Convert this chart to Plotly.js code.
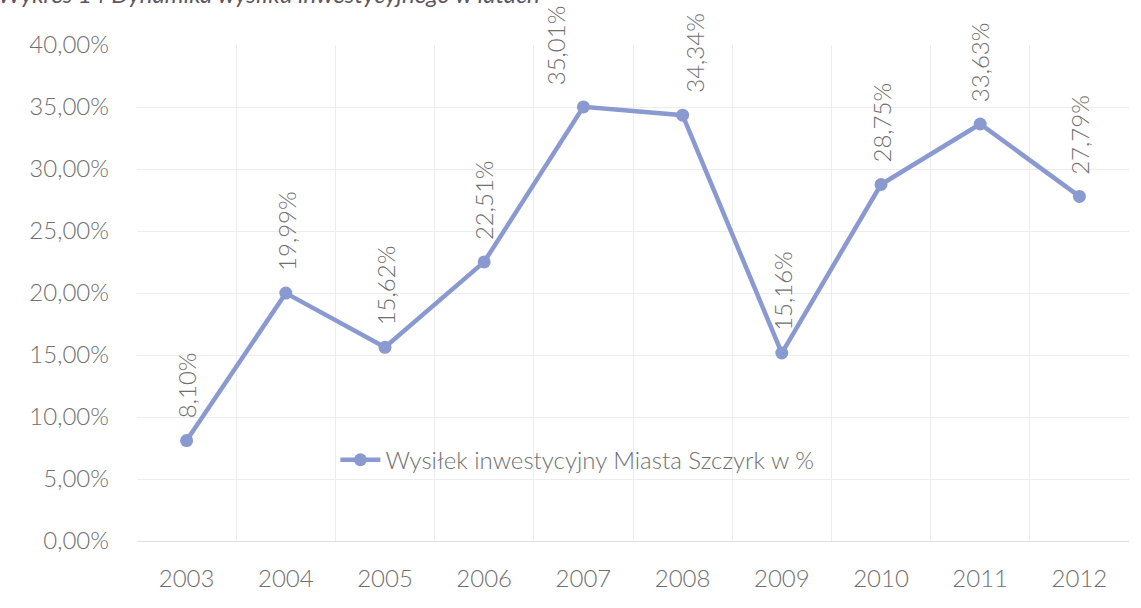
<!DOCTYPE html>
<html>
<head>
<meta charset="utf-8">
<script src="https://cdn.plot.ly/plotly-3.0.1.min.js"></script>
<style>html,body{margin:0;padding:0;background:#fff;}#chart{width:1141px;height:608px;}</style>
</head>
<body>
<div id="chart"></div>
<script>
const years = ['2003','2004','2005','2006','2007','2008','2009','2010','2011','2012'];
const values = [8.10, 19.99, 15.62, 22.51, 35.01, 34.34, 15.16, 28.75, 33.63, 27.79];
const seriesName = 'Wysiłek inwestycyjny Miasta Szczyrk w %';
const yTicks = [0, 5, 10, 15, 20, 25, 30, 35, 40];
const headerText = 'Wykres 14 Dynamika wysiłku inwestycyjnego w latach';

const fmt = v => v.toFixed(2).replace('.', ',') + '%';
const lineColor = '#8a9ad0';
const textColor = '#707070';
const fontFam = 'Lato, "Open Sans", sans-serif';
const W = 300;

const labelShift = {4: -28, 5: 12};

const annotations = years.map((y, i) => ({
  x: i, y: values[i], xref: 'x', yref: 'y',
  text: fmt(values[i]), showarrow: false, textangle: -90,
  xanchor: 'center', yanchor: 'bottom', yshift: 20, xshift: labelShift[i] || 0,
  font: {family: fontFam, size: 24, color: textColor, weight: W}
}));
annotations.push({
  xref: 'paper', yref: 'paper', x: -0.142, y: 1.07, xanchor: 'left', yanchor: 'bottom',
  text: '<i>' + headerText + '</i>', showarrow: false,
  font: {family: fontFam, size: 24, color: '#5e5563'}
});

const trace = {
  x: years, y: values, type: 'scatter', mode: 'lines+markers', name: seriesName,
  line: {color: lineColor, width: 4.5},
  marker: {color: lineColor, size: 13},
  cliponaxis: false
};

const layout = {
  width: 1141, height: 608,
  margin: {l: 137, r: 12, t: 45, b: 67},
  paper_bgcolor: '#fff', plot_bgcolor: '#fff',
  separators: ', ',
  showlegend: true,
  legend: {x: 0.2, y: 0.163, xanchor: 'left', yanchor: 'middle', bgcolor: 'rgba(0,0,0,0)',
           itemwidth: 40,
           font: {family: fontFam, size: 24, color: textColor, weight: W}},
  xaxis: {type: 'category', range: [-0.5, years.length - 0.5], autorange: false,
          tickson: 'boundaries', showgrid: true, gridcolor: '#ededed', gridwidth: 1,
          ticks: '', showline: false, zeroline: false, ticklabelstandoff: 21, tickangle: 0,
          tickfont: {family: fontFam, size: 24, color: textColor, weight: W}},
  yaxis: {range: [0, 40], autorange: false, tickvals: yTicks, ticktext: yTicks.map(v => v.toFixed(2).replace('.', ',') + '%'),
          showgrid: true, gridcolor: '#ededed', gridwidth: 1, zeroline: true, zerolinecolor: '#e0e0e0',
          ticks: '', showline: false, ticklabelstandoff: 27,
          tickfont: {family: fontFam, size: 24, color: textColor, weight: W}},
  annotations: annotations
};

Plotly.newPlot('chart', [trace], layout, {displayModeBar: false, staticPlot: true});
</script>
</body>
</html>
